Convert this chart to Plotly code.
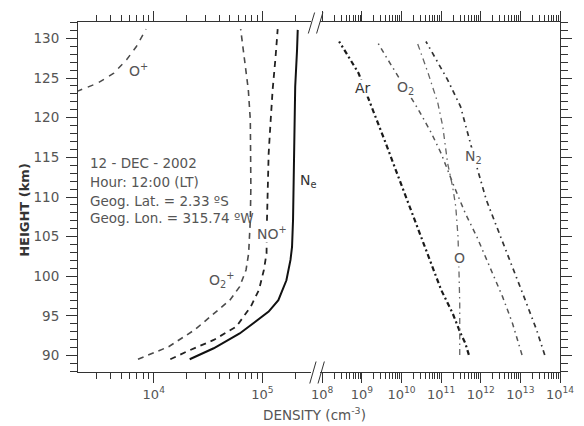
import plotly.graph_objects as go

# ---------------- data (heights in km, densities in cm^-3) ----------------
ne_h = [89.55, 90.93, 92.8, 94.5, 95.55, 97.0, 99.5, 102.07, 103.7, 107.1, 115.5, 123.9, 128.55, 131.07]
ne_d = [2.14e4, 3.56e4, 6.17e4, 8.97e4, 1.14e5, 1.40e5, 1.66e5, 1.81e5, 1.87e5, 1.91e5, 1.95e5, 2.00e5, 2.08e5, 2.11e5]

nop_h = [89.55, 90.5, 91.98, 93.66, 96.2, 98.3, 100.8, 102.9, 107.1, 111.3, 115.5, 119.7, 123.5, 127.7, 131.16]
nop_d = [1.42e4, 2.0e4, 3.56e4, 5.75e4, 7.82e4, 9.29e4, 1.03e5, 1.09e5, 1.10e5, 1.12e5, 1.14e5, 1.19e5, 1.24e5, 1.32e5, 1.38e5]

o2p_h = [89.55, 91.13, 93.24, 95.35, 97.0, 98.7, 100.8, 102.9, 107.1, 111.3, 115.5, 119.7, 123.5, 127.7, 131.16]
o2p_d = [7.16e3, 1.37e4, 2.37e4, 3.56e4, 5.01e4, 6.17e4, 7.06e4, 7.46e4, 7.73e4, 7.82e4, 7.82e4, 7.73e4, 7.41e4, 6.82e4, 6.30e4]

op_h = [123.3, 124.35, 125.6, 127.3, 128.97, 131.16]
op_d = [1.95e3, 3.05e3, 4.29e3, 5.62e3, 6.92e3, 8.49e3]

ar_h = [90.09, 91.57, 92.83, 95.35, 98.3, 102.07, 105.85, 109.6, 113.4, 117.2, 121.4, 125.6, 127.3, 129.6]
ar_d = [5.01e11, 4.07e11, 3.09e11, 1.95e11, 1.0e11, 5.13e10, 2.69e10, 1.38e10, 7.18e9, 3.72e9, 1.75e9, 8.26e8, 5.14e8, 2.67e8]

o2_h = [90.09, 94.1, 97.44, 101.2, 105.0, 107.96, 111.3, 115.5, 118.05, 121.0, 125.6, 127.7, 129.6]
o2_d = [1.10e13, 6.31e12, 3.55e12, 1.70e12, 7.94e11, 4.07e11, 2.14e11, 1.0e11, 5.70e10, 2.68e10, 7.18e9, 4.07e9, 2.42e9]

o_h = [90.09, 92.4, 96.6, 100.8, 105.0, 108.8, 111.3, 114.26, 118.9, 121.83, 125.6, 129.6]
o_d = [2.95e11, 2.99e11, 2.95e11, 2.82e11, 2.67e11, 2.34e11, 1.95e11, 1.46e11, 1.10e11, 8.28e10, 4.71e10, 2.44e10]

n2_h = [90.09, 93.24, 97.0, 101.2, 105.4, 109.6, 113.8, 117.6, 121.4, 124.77, 127.7, 129.6]
n2_d = [4.12e13, 2.57e13, 1.33e13, 6.31e12, 2.95e12, 1.39e12, 7.94e11, 4.95e11, 3.09e11, 1.46e11, 6.92e10, 4.14e10]

left_major = [1e4, 1e5]
left_major_text = ["10<sup>4</sup>", "10<sup>5</sup>"]
right_major = [1e8, 1e9, 1e10, 1e11, 1e12, 1e13, 1e14]
right_major_text = ["10<sup>8</sup>", "10<sup>9</sup>", "10<sup>10</sup>", "10<sup>11</sup>",
                    "10<sup>12</sup>", "10<sup>13</sup>", "10<sup>14</sup>"]
height_major = [90, 95, 100, 105, 110, 115, 120, 125, 130]
info_lines = ["12 - DEC - 2002", "Hour: 12:00 (LT)", "Geog. Lat. = 2.33 ºS", "Geog. Lon. = 315.74 ºW"]

# ---------------- figure ----------------
FONT = "DejaVu Sans"
AX = "#333333"
TXT = "#555555"

left_minor = [m * 10 ** e for e in (3, 4) for m in range(2, 10) if m * 10 ** e > 2.05e3] + [2e5]
right_minor = [m * 10 ** e for e in range(8, 14) for m in range(2, 10)]
height_minor = [h for h in range(88, 133) if h % 5 != 0]

fig = go.Figure()

def add(x, y, xa, ya, color, width, dash, opacity=1.0):
    fig.add_trace(go.Scatter(x=x, y=y, xaxis=xa, yaxis=ya, mode="lines",
                             line=dict(color=color, width=width, dash=dash), opacity=opacity,
                             showlegend=False, hoverinfo="skip"))

# transparent carriers so that the minor-tick overlay axes get drawn
add(ne_d, ne_h, "x", "y3", "white", 1, "solid", opacity=0)
add(n2_d, n2_h, "x2", "y4", "white", 1, "solid", opacity=0)

add(op_d, op_h, "x", "y", "#4a4a4a", 1.5, "6px,6px")
add(o2p_d, o2p_h, "x", "y", "#4a4a4a", 1.6, "6px,5px")
add(nop_d, nop_h, "x", "y", "#222222", 1.8, "6px,5px")
add(ne_d, ne_h, "x", "y", "#111111", 2.0, "solid")

add(ar_d, ar_h, "x2", "y2", "#1a1a1a", 2.2, "5px,3px,2px,3px")
add(o2_d, o2_h, "x2", "y2", "#555555", 1.5, "5px,4px,1.5px,4px")
add(o_d, o_h, "x2", "y2", "#666666", 1.3, "6px,4px,1.5px,4px")
add(n2_d, n2_h, "x2", "y2", "#333333", 1.7, "5px,4px,1.5px,4px")

YR = [87.94, 132.06]
common_x = dict(type="log", showline=True, linecolor=AX, linewidth=1, ticks="outside",
                ticklen=10, tickcolor=AX, tickwidth=1, mirror="ticks", showgrid=False,
                zeroline=False, tickfont=dict(family=FONT, size=13, color=TXT))
common_y = dict(range=YR, showline=True, linecolor=AX, linewidth=1,
                ticks="outside", ticklen=11, tickcolor=AX, tickmode="array",
                tickvals=height_major, showgrid=False, zeroline=False)
minor_y = dict(range=YR, showline=False, ticks="outside", ticklen=7, tickcolor=AX,
               tickwidth=1, tickmode="array", tickvals=height_minor, showticklabels=False,
               showgrid=False, zeroline=False, overlaying="y")
fig.update_layout(
    width=584, height=426,
    margin=dict(l=78, r=10, t=22, b=54),
    paper_bgcolor="white", plot_bgcolor="rgba(0,0,0,0)",
    xaxis=dict(domain=[0, 0.484], range=[3.303, 5.449], anchor="y",
               tickmode="array", tickvals=left_major, ticktext=left_major_text,
               minor=dict(tickmode="array", tickvals=left_minor, ticks="outside", ticklen=6,
                          tickcolor=AX, tickwidth=1),
               **common_x),
    xaxis2=dict(domain=[0.502, 1], range=[7.943, 14], anchor="y2",
                tickmode="array", tickvals=right_major, ticktext=right_major_text,
                minor=dict(tickmode="array", tickvals=right_minor, ticks="outside", ticklen=6,
                           tickcolor=AX, tickwidth=1),
                **common_x),
    yaxis=dict(anchor="x", side="left", ticklabelstandoff=4,
               tickfont=dict(family=FONT, size=13.5, color=TXT), **common_y),
    yaxis2=dict(anchor="x2", side="right", overlaying="y", showticklabels=False, **common_y),
    yaxis3=dict(anchor="x", side="left", **minor_y),
    yaxis4=dict(anchor="x2", side="right", **minor_y),
)

ann = []
# axis titles
ann.append(dict(text="DENSITY (cm<sup>-3</sup>)", xref="paper", yref="paper", x=0.49, y=-0.12,
                showarrow=False, font=dict(family=FONT, size=13.5, color=TXT), yanchor="middle"))
ann.append(dict(text="<b>HEIGHT (km)</b>", xref="paper", yref="paper", x=-0.13, y=0.463,
                textangle=-90, showarrow=False, font=dict(family=FONT, size=13, color="#333333")))
# info block
for t, yy in zip(info_lines, [114.26, 111.85, 109.5, 107.3]):
    ann.append(dict(text=t, xref="paper", yref="y", x=0.021, y=yy, xanchor="left",
                    yanchor="middle", showarrow=False,
                    font=dict(family=FONT, size=13.5, color=TXT)))
# curve labels (positions in log10 units)
labels = [
    ("O<sup>+</sup>", "x", "y", 3.86, 126.0, TXT),
    ("N<sub>e</sub>", "x", "y", 5.425, 112.0, "#333333"),
    ("NO<sup>+</sup>", "x", "y", 5.086, 105.4, TXT),
    ("O<sub>2</sub><sup>+</sup>", "x", "y", 4.623, 99.6, TXT),
    ("Ar", "x2", "y2", 9.035, 123.7, "#333333"),
    ("O<sub>2</sub>", "x2", "y2", 10.10, 123.7, TXT),
    ("N<sub>2</sub>", "x2", "y2", 11.82, 115.1, TXT),
    ("O", "x2", "y2", 11.475, 102.3, TXT),
]
for t, xr, yr, xx, yy, c in labels:
    ann.append(dict(text=t, xref=xr, yref=yr, x=xx, y=yy, showarrow=False,
                    bgcolor="white", borderpad=0,
                    font=dict(family=FONT, size=14, color=c)))
fig.update_layout(annotations=ann)

# axis break marks
W, H = 496.0, 350.0
def px(x):
    return (x - 78) / W
def py(y):
    return (372 - y) / H
shapes = []
for (x0, y0, x1, y1) in [(316.5, 383.5, 323, 361.5), (325, 383.5, 331.5, 361.5),
                         (315, 33.5, 321.5, 12.5), (323.5, 33.5, 330, 12.5)]:
    shapes.append(dict(type="line", xref="paper", yref="paper", x0=px(x0), y0=py(y0),
                       x1=px(x1), y1=py(y1), line=dict(color=AX, width=1)))
fig.update_layout(shapes=shapes)

fig.write_html("out.html")
